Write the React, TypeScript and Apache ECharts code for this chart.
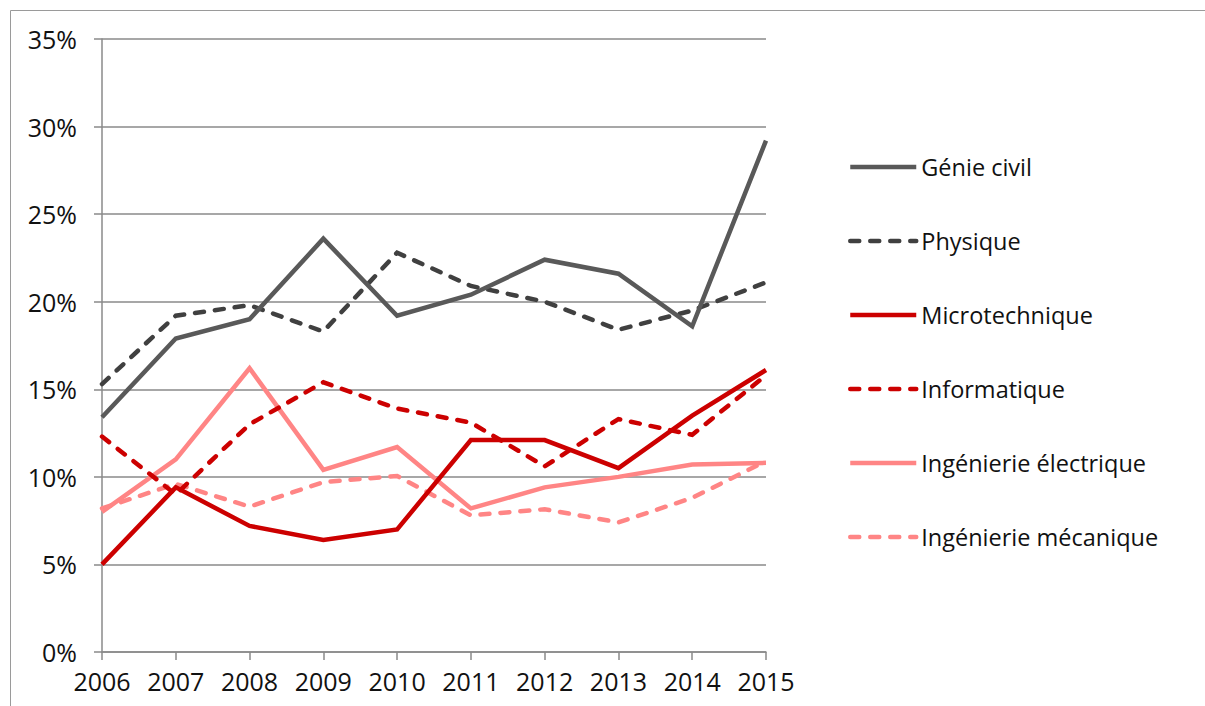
import React, { useEffect, useRef } from "react";
import * as echarts from "echarts";

const years = ["2006", "2007", "2008", "2009", "2010", "2011", "2012", "2013", "2014", "2015"];
const genieCivil = [13.4, 17.9, 19.0, 23.6, 19.2, 20.4, 22.4, 21.6, 18.6, 29.2];
const physique = [15.3, 19.2, 19.8, 18.3, 22.8, 20.9, 20.0, 18.4, 19.5, 21.1];
const microtechnique = [5.0, 9.4, 7.2, 6.4, 7.0, 12.1, 12.1, 10.5, 13.5, 16.1];
const informatique = [12.3, 9.0, 13.0, 15.4, 13.9, 13.1, 10.6, 13.3, 12.4, 15.8];
const ingElectrique = [8.0, 11.0, 16.2, 10.4, 11.7, 8.2, 9.4, 10.0, 10.7, 10.8];
const ingMecanique = [8.2, 9.6, 8.3, 9.7, 10.05, 7.8, 8.15, 7.4, 8.8, 10.9];

const FONT = "'Open Sans', 'Noto Sans', sans-serif";
const GRID_COLOR = "#8a8a8a";

export default function App() {
  const ref = useRef<HTMLDivElement>(null);
  useEffect(() => {
    if (!ref.current) return;
    const chart = echarts.init(ref.current, null, { renderer: "svg" });
    const mk = (name: string, data: number[], color: string, dashed: boolean) => ({
      name,
      type: "line",
      data,
      symbol: "none",
      showSymbol: false,
      lineStyle: {
        color,
        width: 4.5,
        type: dashed ? [9, 11] : "solid",
        cap: dashed ? "round" : "butt",
        join: "miter",
      },
      itemStyle: { color },
    });
    chart.setOption({
      animation: false,
      backgroundColor: "#ffffff",
      textStyle: { fontFamily: FONT },
      graphic: [
        {
          type: "rect",
          shape: { x: 10.5, y: 10.5, width: 1210, height: 720 },
          style: { fill: "none", stroke: "#9a9a9a", lineWidth: 1 },
          silent: true,
          z: -10,
        },
      ],
      grid: { left: 102, top: 39, width: 664, height: 613, containLabel: false },
      legend: {
        orient: "vertical",
        left: 848,
        top: 155,
        itemWidth: 66,
        itemHeight: 3,
        itemGap: 50,
        padding: 0,
        lineStyle: { width: 4.5 },
        itemStyle: { borderWidth: 0, opacity: 0 },
        textStyle: { fontFamily: FONT, fontSize: 23.5, color: "#111" },
        data: ["Génie civil", "Physique", "Microtechnique", "Informatique", "Ingénierie électrique", "Ingénierie mécanique"],
      },
      xAxis: {
        type: "category",
        data: years,
        boundaryGap: false,
        axisLine: { show: true, lineStyle: { color: GRID_COLOR, width: 1.5 } },
        axisTick: { show: true, length: 8, alignWithLabel: true, lineStyle: { color: GRID_COLOR, width: 1.5 } },
        axisLabel: { fontFamily: FONT, fontSize: 25, color: "#111", margin: 16, interval: 0 },
        splitLine: { show: false },
      },
      yAxis: {
        type: "value",
        min: 0,
        max: 35,
        interval: 5,
        axisLine: { show: true, lineStyle: { color: GRID_COLOR, width: 1.5 } },
        axisTick: { show: true, length: 8, lineStyle: { color: GRID_COLOR, width: 1.5 } },
        axisLabel: { fontFamily: FONT, fontSize: 25, color: "#111", margin: 25, formatter: "{value}%" },
        splitLine: { show: true, lineStyle: { color: GRID_COLOR, width: 1.5 } },
      },
      series: [
        mk("Ingénierie mécanique", ingMecanique, "#ff8585", true),
        mk("Ingénierie électrique", ingElectrique, "#ff8585", false),
        mk("Informatique", informatique, "#cc0000", true),
        mk("Microtechnique", microtechnique, "#cc0000", false),
        mk("Physique", physique, "#404040", true),
        mk("Génie civil", genieCivil, "#595959", false),
      ],
    });
    return () => chart.dispose();
  }, []);
  return (
    <div
      ref={ref}
      style={{ position: "absolute", left: 0, top: 0, width: 1205, height: 706 }}
    />
  );
}
